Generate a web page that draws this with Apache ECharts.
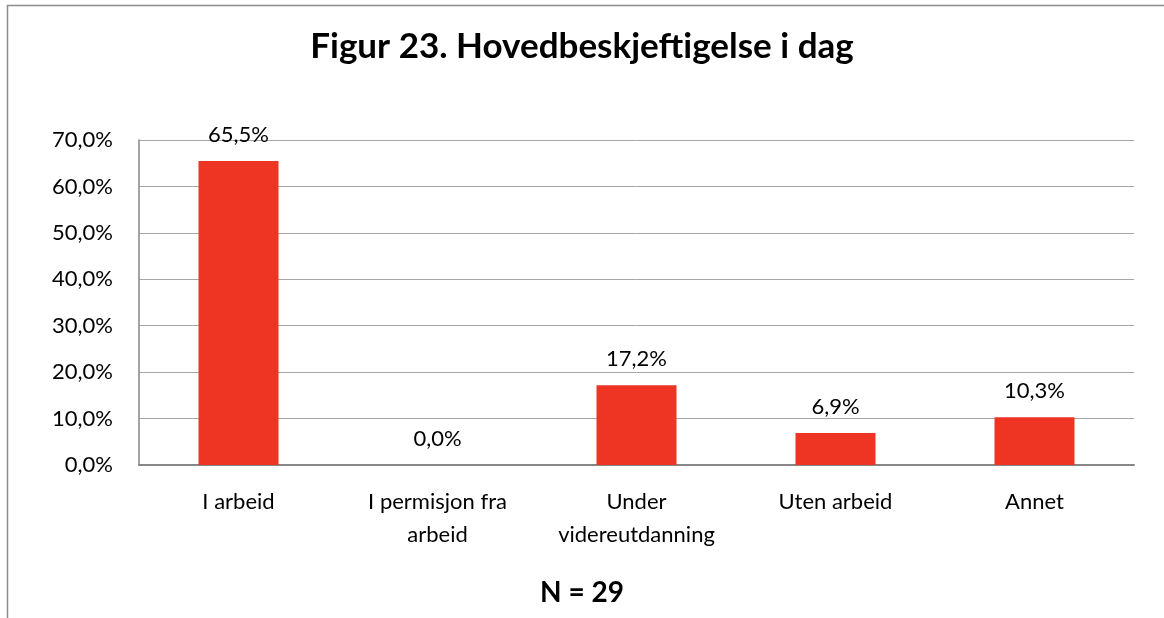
<!DOCTYPE html>
<html>
<head>
<meta charset="utf-8">
<script src="https://cdn.jsdelivr.net/npm/echarts@6/dist/echarts.min.js"></script>
<style>
html,body{margin:0;padding:0;background:#fff;}
#chart{width:1164px;height:618px;}
</style>
</head>
<body>
<div id="chart"></div>
<script>
var categories = ['I arbeid', 'I permisjon fra\narbeid', 'Under\nvidereutdanning', 'Uten arbeid', 'Annet'];
var values = [65.5, 0.0, 17.2, 6.9, 10.3];
var titleText = 'Figur 23. Hovedbeskjeftigelse i dag';
var footText = 'N = 29';

var font = 'Lato, "Open Sans", sans-serif';
function pct(v){ return v.toFixed(1).replace('.', ',') + '%'; }

var myChart = echarts.init(document.getElementById('chart'));
var option = {
	backgroundColor: '#fff',
	animation: false,
	title: [
		{
			text: titleText,
			left: 'center',
			top: 24,
			textStyle: {fontFamily: font, fontSize: 35, fontWeight: 'bold', color: '#000'}
		},
		{
			text: footText,
			left: 'center',
			top: 574,
			textStyle: {fontFamily: font, fontSize: 28, fontWeight: 'bold', color: '#000'}
		}
	],
	graphic: [{
		type: 'rect',
		shape: {x: 7.5, y: 5.5, width: 1200, height: 700},
		style: {fill: 'none', stroke: '#8c8c8c', lineWidth: 1.5},
		silent: true
	}],
	grid: {left: 139, right: 30, top: 140, bottom: 153, containLabel: false},
	xAxis: {
		type: 'category',
		data: categories,
		axisLine: {lineStyle: {color: '#868686', width: 2}},
		axisTick: {show: false},
		axisLabel: {fontFamily: font, fontSize: 22, color: '#000', margin: 20, lineHeight: 33, interval: 0}
	},
	yAxis: {
		type: 'value',
		min: 0,
		max: 70,
		interval: 10,
		axisLine: {show: true, lineStyle: {color: '#868686', width: 1.5}},
		axisTick: {show: false},
		splitLine: {lineStyle: {color: '#a6a6a6', width: 1}},
		axisLabel: {fontFamily: font, fontSize: 22, color: '#000', margin: 26, formatter: function(v){ return pct(v); }}
	},
	series: [{
		type: 'bar',
		data: values,
		barWidth: 80,
		itemStyle: {color: '#EE3524'},
		label: {
			show: true,
			position: 'top',
			distance: 15,
			fontFamily: font,
			fontSize: 22,
			color: '#000',
			formatter: function(p){ return pct(p.value); }
		}
	}]
};
option && myChart.setOption(option);
</script>
</body>
</html>
